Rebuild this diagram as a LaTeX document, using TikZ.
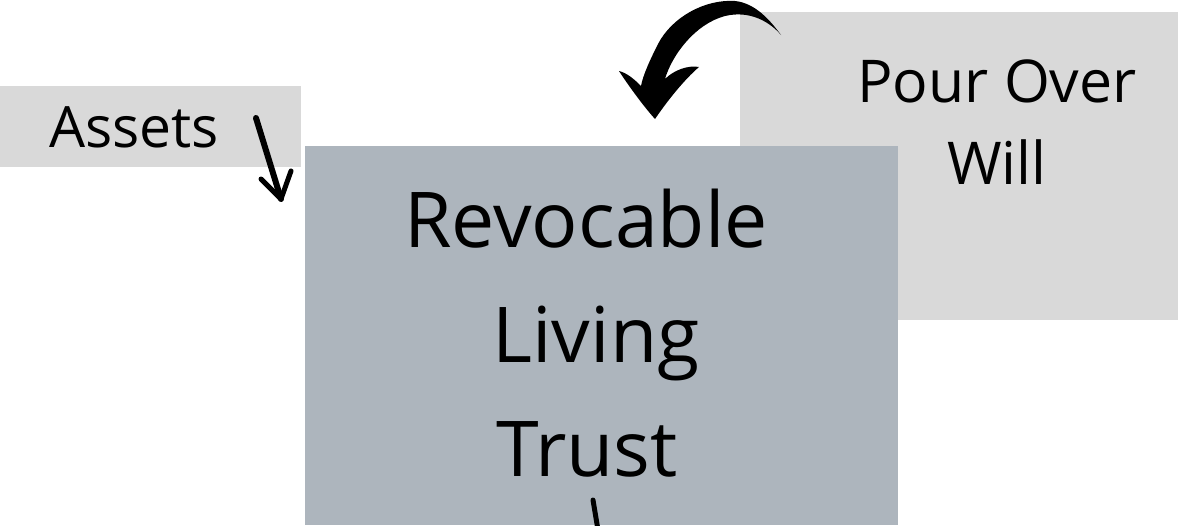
\documentclass[tikz,border=0pt]{standalone}
\usepackage{fontspec}
\setmainfont{Open Sans}
\definecolor{boxgray}{HTML}{D9D9D9}
\definecolor{trustgray}{HTML}{ADB5BD}
\tikzset{
  label/.style={anchor=base, inner sep=0pt, text=black},
  stroke/.style={line width=5.5pt, line cap=round, line join=round, draw=black},
}
\begin{document}
\begin{tikzpicture}[x=1pt, y=-1pt]
\useasboundingbox[fill=white] (0,0) rectangle (1178,525);
% boxes
\fill[boxgray] (0,86) rectangle (301,167);
\fill[boxgray] (740,12) rectangle (1178,320);
\fill[trustgray] (305,146) rectangle (898,525);
% texts
\node[label, font=\fontsize{57}{60}\selectfont] (assets) at (134,147) {Assets};
\node[label, font=\fontsize{59}{62}\selectfont] (pour) at (997,102) {Pour Over};
\node[label, font=\fontsize{59}{62}\selectfont] (will) at (997,184) {Will};
\node[label, font=\fontsize{77}{80}\selectfont] (revocable) at (586,247) {Revocable};
\node[label, font=\fontsize{77}{80}\selectfont] (living) at (596,362) {Living};
\node[label, font=\fontsize{77}{80}\selectfont] (trust) at (587,476) {Trust};
% big curved arrow (from will to trust)
\coordinate (bigtail) at (781,35);
\coordinate (bigtip) at (655,119);
\fill[black] (bigtail) .. controls (770,20) and (755,3) .. (735,1)
  .. controls (705,-1) and (672,17) .. (658,44)
  .. controls (650,60) and (643,75) .. (641,86)
  .. controls (634,79) and (627,73) .. (619,71)
  .. controls (630,88) and (645,108) .. (bigtip)
  .. controls (668,100) and (684,80) .. (699,67)
  .. controls (688,65) and (674,70) .. (665,79)
  .. controls (672,55) and (695,24) .. (725,16)
  .. controls (750,10) and (770,22) .. (bigtail) -- cycle;
% small arrow (assets to trust)
\coordinate (sa) at (256,118);
\coordinate (sb) at (281,199);
\coordinate (sl) at (261,179);
\coordinate (sr) at (291,171);
\draw[stroke, line width=6pt] (sa) -- (sb);
\draw[stroke, line width=5pt] (sl) -- (sb) -- (sr);
% bottom stroke
\coordinate (ba) at (593,500);
\coordinate (bb) at (598,530);
\draw[stroke, line width=5pt] (ba) -- (bb);
\end{tikzpicture}
\end{document}
